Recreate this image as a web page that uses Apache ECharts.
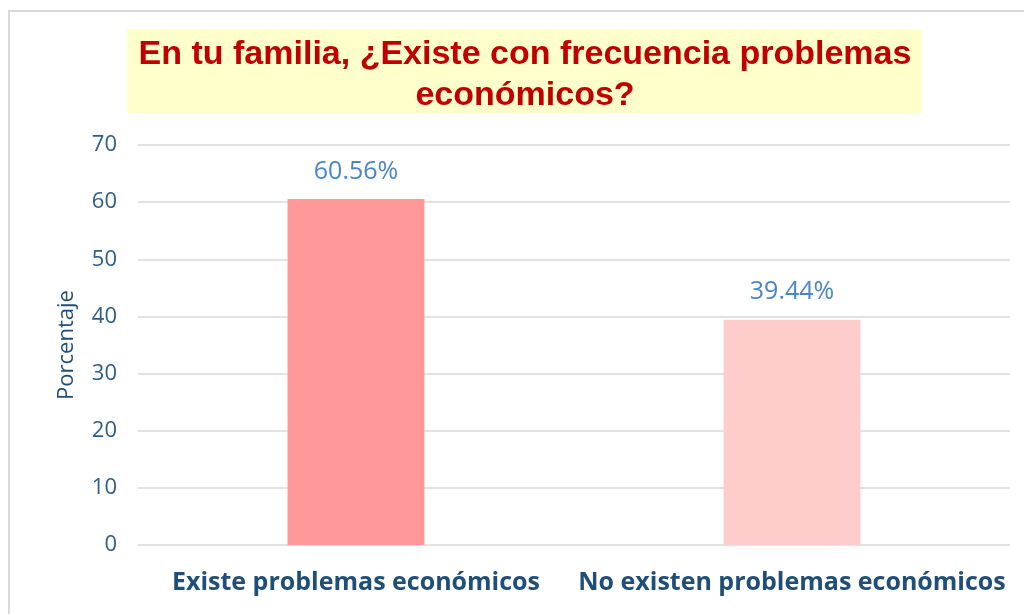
<!DOCTYPE html>
<html>
<head>
<meta charset="utf-8">
<script src="https://cdn.jsdelivr.net/npm/echarts@6/dist/echarts.min.js"></script>
<style>
	html, body { margin: 0; padding: 0; background: #fff; }
	#main { width: 1024px; height: 614px; }
</style>
</head>
<body>
<div id="main"></div>
<script>
// datos de la gráfica
var categorias = ['Existe problemas económicos', 'No existen problemas económicos'];
var porcentajes = [60.56, 39.44];
var colores = ['#ff9999', '#ffcccc'];
var ticksY = [0, 10, 20, 30, 40, 50, 60, 70];

function initBarChart(){
	var myChart = echarts.init(document.getElementById('main'));
	var option = {
		backgroundColor: '#ffffff',
		graphic: [{
			type: 'rect',
			shape: { x: 9, y: 11, width: 1030, height: 620 },
			style: { fill: 'none', stroke: '#d9d9d9', lineWidth: 2 },
			z: -1
		}, {
			type: 'rect',
			shape: { x: 127, y: 29, width: 795, height: 84 },
			style: { fill: '#ffffcc' },
			z: -1
		}],
		title: {
			text: 'En tu familia, ¿Existe con frecuencia problemas\neconómicos?',
			left: 520,
			top: 29,
			textAlign: 'center',
			textStyle: {
				fontFamily: 'Liberation Sans, Arial',
				fontSize: 34,
				fontWeight: 'bold',
				color: '#c00000',
				lineHeight: 41
			}
		},
		grid: {
			left: 138,
			right: 14,
			top: 145,
			bottom: 69
		},
		xAxis: [{
			type: 'category',
			data: categorias,
			axisLine: { show: false },
			axisTick: { show: false },
			axisLabel: {
				interval: 0,
				hideOverlap: false,
				margin: 25,
				fontFamily: 'Open Sans, Noto Sans',
				fontSize: 25,
				fontWeight: 'bold',
				color: '#1f4e79'
			}
		}],
		yAxis: [{
			type: 'value',
			min: ticksY[0],
			max: ticksY[ticksY.length - 1],
			interval: 10,
			name: 'Porcentaje',
			nameLocation: 'middle',
			nameGap: 60,
			nameTextStyle: {
				fontFamily: 'Open Sans, Noto Sans',
				fontSize: 22,
				color: '#1f4e79'
			},
			axisLabel: {
				margin: 21,
				fontFamily: 'Open Sans, Noto Sans',
				fontSize: 22,
				color: '#2e5d87'
			},
			splitLine: { lineStyle: { color: '#d9d9d9', width: 1.5 } }
		}],
		series: [{
			type: 'bar',
			barWidth: '31.4%',
			data: porcentajes.map(function(v, i){
				return { value: v, itemStyle: { color: colores[i] } };
			}),
			label: {
				show: true,
				position: 'top',
				distance: 15,
				formatter: '{c}%',
				fontFamily: 'Open Sans, Noto Sans',
				fontSize: 25,
				color: '#4a86c5'
			}
		}]
	};
	myChart.setOption(option);
}

initBarChart();
</script>
</body>
</html>
